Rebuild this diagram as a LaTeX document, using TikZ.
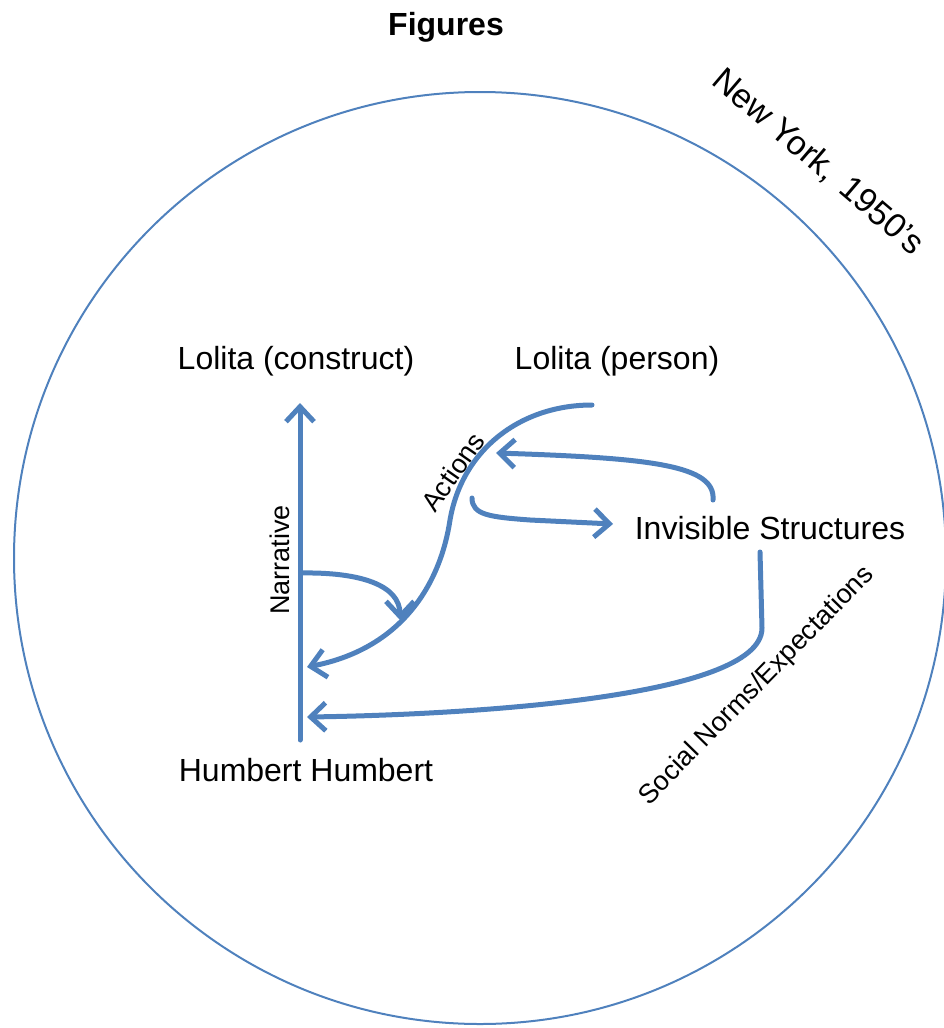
\documentclass[tikz,border=0pt]{standalone}
\usepackage{fontspec}
\setmainfont{Liberation Sans}
\usetikzlibrary{arrows.meta}
\definecolor{ppblue}{HTML}{4F81BD}
\tikzset{
  lbl/.style={inner sep=0pt, font=\fontsize{32}{38}\selectfont},
  mid/.style={inner sep=0pt, font=\fontsize{27}{32}\selectfont},
  conn/.style={draw=ppblue, line width=5pt, line cap=round, line join=round,
    -{Straight Barb[length=15pt,width=28pt,line width=5pt]}}
}
\begin{document}
\begin{tikzpicture}[x=1pt,y=-1pt]
\useasboundingbox (0,0) rectangle (943,1028);
% outer circle
\draw[ppblue, line width=2pt] (480,558) circle [radius=466];
% texts
\node[lbl, font=\fontsize{32}{38}\selectfont\bfseries] (title) at (446,27) {Figures};
\node[lbl] (construct) at (296,361) {Lolita (construct)};
\node[lbl] (person) at (617,361) {Lolita (person)};
\node[lbl] (invis) at (770,528) {Invisible Structures};
\node[lbl] (humbert) at (306,770) {Humbert Humbert};
\node[mid, rotate=90] (narr) at (280,560) {Narrative};
\node[mid, rotate=55] (act) at (453,472) {Actions};
\node[mid, rotate=45.6] (social) at (757,686) {Social Norms/Expectations};
\node[inner sep=0pt, font=\fontsize{34}{40}\selectfont, rotate=-40.5] (ny) at (818,162) {New York,\kern4pt\ 1950’s};
% anchor coordinates
\coordinate (axbot) at (300,740);
\coordinate (axtop) at (300,403);
\coordinate (sstart) at (592,405);
\coordinate (smid) at (450,520);
\coordinate (send) at (307,667);
\coordinate (nstart) at (301,573);
\coordinate (nend) at (400,620);
\coordinate (rstart) at (713,500);
\coordinate (rend) at (496,453);
\coordinate (astart) at (472,498);
\coordinate (aend) at (613,524);
\coordinate (gstart) at (760,552);
\coordinate (gbend) at (762,628);
\coordinate (gend) at (307,717);
% connectors
\draw[conn] (axbot) -- (axtop);
\draw[conn] (sstart) .. controls (520,405) and (462,450) .. (smid)
   .. controls (441,580) and (405,648) .. (send);
\draw[conn] (nstart) .. controls (360,572) and (400,585) .. (nend);
\draw[conn] (rstart) .. controls (716,465) and (650,458) .. (rend);
\draw[conn] (astart) .. controls (472,515) and (490,517) .. (530,520) -- (aend);
\draw[conn] (gstart) -- (gbend) .. controls (762,700) and (450,715) .. (gend);
\end{tikzpicture}
\end{document}
